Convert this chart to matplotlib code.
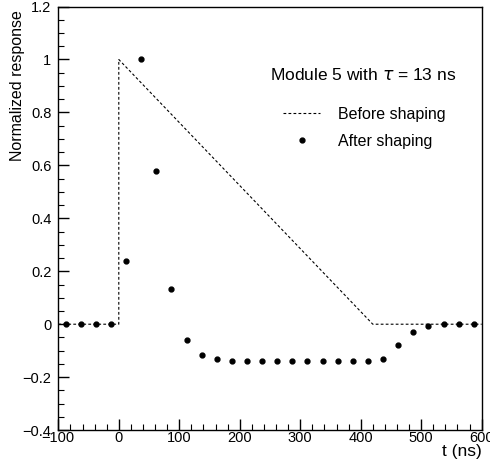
import matplotlib
matplotlib.use('Agg')
import matplotlib.pyplot as plt
from matplotlib.ticker import MultipleLocator

plt.rcParams['font.family'] = ['Liberation Sans', 'DejaVu Sans']

# input pulse (before shaping)
t_in = [-100, 0, 0, 420, 600]
v_in = [0, 0, 1, 0, 0]

# sampled output (after shaping)
t_out = [-88, -63, -38, -13, 12, 37, 62, 87, 112, 137, 162, 187, 212, 237,
         262, 287, 312, 337, 362, 387, 412, 437, 462, 487, 512, 537, 562, 587]
v_out = [0, 0, 0, 0, 0.238, 1.0, 0.58, 0.132, -0.059, -0.118, -0.133, -0.138,
         -0.139, -0.139, -0.139, -0.139, -0.139, -0.139, -0.139, -0.139, -0.139,
         -0.131, -0.078, -0.031, -0.008, 0, 0, 0]

fig = plt.figure(figsize=(4.9, 4.67), dpi=100)
ax = fig.add_axes([0.119, 0.079, 0.864, 0.907])

ax.plot(t_in, v_in, color='black', lw=0.8, ls=(0, (2.5, 2)), label='Before shaping')
ax.plot(t_out, v_out, 'o', color='black', ms=3.5, label='After shaping')

ax.set_xlim(-100, 600)
ax.set_ylim(-0.4, 1.2)
ax.xaxis.set_major_locator(MultipleLocator(100))
ax.xaxis.set_minor_locator(MultipleLocator(20))
ax.yaxis.set_major_locator(MultipleLocator(0.2))
ax.yaxis.set_minor_locator(MultipleLocator(0.05))
ax.yaxis.set_major_formatter(lambda v, p: '0' if abs(v) < 1e-9 else ('%g' % v).replace('-', '\u2212'))
ax.xaxis.set_major_formatter(lambda v, p: ('%g' % v).replace('-', '\u2212'))
ax.tick_params(which='both', direction='in', top=False, right=False, labelsize=10.5)
ax.tick_params(axis='x', which='major', pad=1)
ax.tick_params(axis='y', which='major', pad=5)
ax.tick_params(which='major', length=8, width=1)
ax.tick_params(which='minor', length=4.5, width=0.8)
for s in ax.spines.values():
    s.set_linewidth(1)

fig.text(0.036, 0.979, 'Normalized response', rotation=90, ha='center', va='top', fontsize=11.5)
ax.set_xlabel('t (ns)', fontsize=12.5, loc='right', labelpad=-1)

ax.text(0.94, 0.838, r'Module 5 with $\tau$ = 13 ns', transform=ax.transAxes,
        ha='right', va='center', fontsize=12.5)
ax.legend(loc='upper right', bbox_to_anchor=(0.948, 0.797), frameon=False,
          fontsize=11.5, handlelength=2.3, handletextpad=1.1, labelspacing=0.76)

fig.savefig('out.png', dpi=100)
